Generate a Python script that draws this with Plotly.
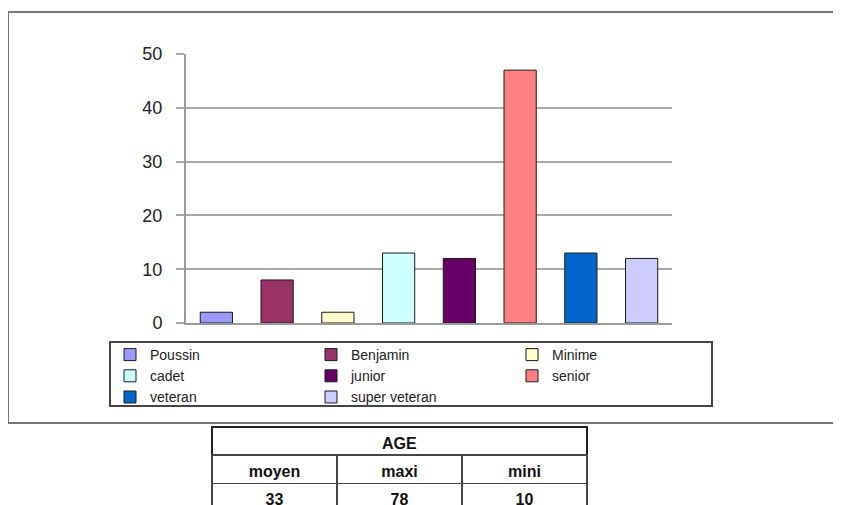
import plotly.graph_objects as go

categories = ["Poussin", "Benjamin", "Minime", "cadet", "junior", "senior", "veteran", "super veteran"]
values = [2, 8, 2, 13, 12, 47, 13, 12]
colors = ["#9999FF", "#993366", "#FFFFCC", "#CCFFFF", "#660066", "#FF8080", "#0066CC", "#CCCCFF"]
y_ticks = [0, 10, 20, 30, 40, 50]

table_title = "AGE"
table_columns = ["moyen", "maxi", "mini"]
table_values = [33, 78, 10]

W, H = 841, 540    # figure taller than the window: bottom of the table is cut off like the reference
OFF = 8            # page body margin offset
ML, GW = 90, 620   # left margin and plot-area width (controls legend wrapping)
MR = W - ML - GW
FONT = "Liberation Sans, Arial, sans-serif"


def fx(px):
    return (px - OFF - ML) / GW


def fy(py):
    return (H - (py - OFF)) / H


fig = go.Figure()
for cat, val, col in zip(categories, values, colors):
    fig.add_trace(go.Bar(
        x=[cat], y=[val], name=cat,
        marker=dict(color=col, line=dict(color="#1a1a1a", width=1)),
        hoverinfo="x+y",
    ))


def table_row(texts, y_top, y_bottom, line_color, bold):
    n = len(texts)
    fig.add_trace(go.Table(
        domain=dict(x=[fx(212), fx(587)], y=[y_bottom, fy(y_top)]),
        columnwidth=[1] * n,
        header=dict(values=[("<b>%s</b>" % t) if bold else str(t) for t in texts],
                    height=28, align="center",
                    font=dict(family=FONT, size=16, color="#111"),
                    line=dict(color=line_color, width=2), fill=dict(color="white")),
        cells=dict(values=[[""] for _ in texts], height=28,
                   line=dict(color=line_color, width=2), fill=dict(color="white")),
    ))


table_row(table_values, 483, 0, "#444", True)
table_row(table_columns, 455, fy(483), "#444", True)
table_row([table_title], 427, fy(455), "#222", True)

fig.update_layout(
    width=W, height=H,
    margin=dict(l=ML, r=MR, t=0, b=0, autoexpand=False),
    paper_bgcolor="white", plot_bgcolor="white",
    barmode="overlay", bargap=0.47,
    font=dict(family=FONT, color="#222"),
    xaxis=dict(domain=[fx(186), fx(672)], showticklabels=False, ticks="",
               showline=True, linecolor="#9a9a9a", linewidth=2, showgrid=False,
               categoryorder="array", categoryarray=categories, fixedrange=True),
    yaxis=dict(domain=[fy(323), fy(54)], range=[0, 50],
               tickvals=y_ticks, showgrid=True, gridcolor="#a8a8a8", gridwidth=2,
               showline=True, linecolor="#9a9a9a", linewidth=2,
               ticks="outside", ticklen=8, tickcolor="#a8a8a8", tickwidth=2,
               ticklabelstandoff=10,
               tickfont=dict(family=FONT, size=18, color="#222"), zeroline=False,
               fixedrange=True),
    showlegend=True,
    legend=dict(orientation="h", x=fx(110), xanchor="left", y=fy(339), yanchor="top",
                entrywidth=156, entrywidthmode="pixels", traceorder="normal",
                borderwidth=0, bgcolor="rgba(0,0,0,0)",
                font=dict(family=FONT, size=14, color="#222"),
                itemwidth=30, tracegroupgap=0),
    shapes=[
        dict(type="rect", xref="paper", yref="paper",
             x0=fx(8), x1=fx(860), y0=fy(423), y1=fy(12),
             line=dict(color="#777", width=2), layer="below"),
        dict(type="rect", xref="paper", yref="paper",
             x0=fx(110), x1=fx(712), y0=fy(406), y1=fy(342),
             line=dict(color="#444", width=2), fillcolor="white", layer="below"),
    ],
)

fig.write_html("out.html")
